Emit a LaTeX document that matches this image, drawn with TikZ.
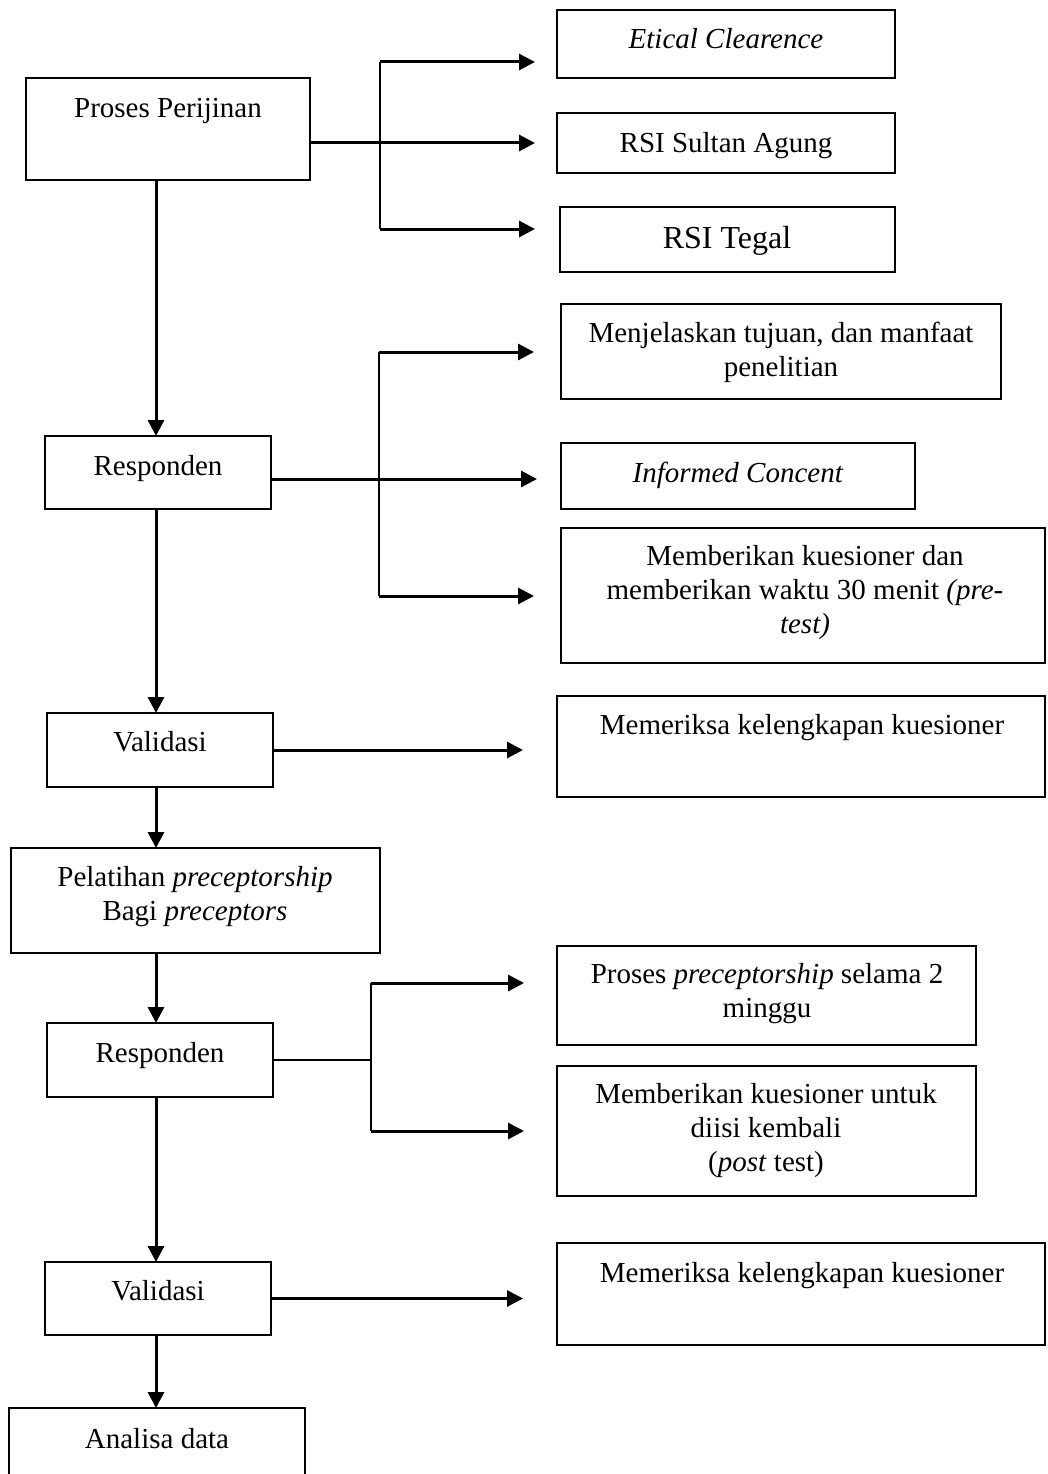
\documentclass[tikz,border=0pt]{standalone}
\usepackage{fontspec}
\setmainfont{Liberation Serif}
\usetikzlibrary{arrows.meta}
\tikzset{
  box/.style={draw=black, line width=2.4pt, inner sep=0pt, outer sep=0pt},
  txt/.style={font=\fontsize{29}{34}\selectfont, align=center, inner sep=0pt, anchor=north},
  arr/.style={line width=3pt, -{Triangle[length=16pt,width=16pt]}},
  ln/.style={line width=2.4pt}
}
\newcommand\bx[5]{\node[box, minimum width={#4-#2}, minimum height={#5-#3}] (#1) at ({(#2+#4)/2},{(#3+#5)/2}) {};}
\newcommand\tx[4]{\node[txt] (#1) at (#2,{#3-23.8}) {\strut #4};}
\begin{document}
\begin{tikzpicture}[x=1pt,y=-1pt]
\useasboundingbox (0,0) rectangle (1047,1474);
\clip (0,0) rectangle (1047,1474);
\fill[white] (0,0) rectangle (1047,1474);
% boxes
\bx{pp}{26}{78}{310}{180}
\bx{ec}{557}{10}{895}{78}
\bx{sa}{557}{113}{895}{173}
\bx{tg}{560}{207}{895}{272}
\bx{mj}{561}{304}{1001}{399}
\bx{ic}{561}{443}{915}{509}
\bx{mk}{561}{528}{1045}{663}
\bx{ra}{45}{436}{271}{509}
\bx{va}{47}{713}{273}{787}
\bx{ma}{557}{696}{1045}{797}
\bx{pl}{11}{848}{380}{953}
\bx{rb}{47}{1023}{273}{1097}
\bx{pb}{557}{946}{976}{1045}
\bx{kb}{557}{1066}{976}{1196}
\bx{vb}{45}{1262}{271}{1335}
\bx{mb}{557}{1243}{1045}{1345}
\bx{an}{9}{1408}{305}{1495}
% texts
\tx{ppt}{168}{117}{Proses Perijinan}
\tx{ect}{726}{48}{\textit{Etical Clearence}}
\tx{sat}{726}{152}{RSI Sultan Agung}
\node[txt, font=\fontsize{32}{36}\selectfont] (tgt) at (727,{248-25.2}) {\strut RSI Tegal};
\tx{mjt}{781}{342}{Menjelaskan tujuan, dan manfaat\\penelitian}
\tx{ict}{738}{482}{\textit{Informed Concent}}
\tx{mkt}{805}{565}{Memberikan kuesioner dan\\memberikan waktu 30 menit \textit{(pre-}\\\textit{test)}}
\tx{rat}{158}{475}{Responden}
\tx{vat}{160}{751}{Validasi}
\tx{mat}{802}{734}{Memeriksa kelengkapan kuesioner}
\tx{plt}{195}{886}{Pelatihan \textit{preceptorship}\\Bagi \textit{preceptors}}
\tx{rbt}{160}{1062}{Responden}
\tx{pbt}{767}{983}{Proses \textit{preceptorship} selama 2\\minggu}
\tx{kbt}{766}{1103}{Memberikan kuesioner untuk\\diisi kembali\\(\textit{post} test)}
\tx{vbt}{158}{1300}{Validasi}
\tx{mbt}{802}{1282}{Memeriksa kelengkapan kuesioner}
\tx{ant}{157}{1448}{Analisa data}
% spine
\coordinate (sp) at (156,0);
\draw[arr] (pp.south -| sp) -- (ra.north -| sp);
\draw[arr] (ra.south -| sp) -- (va.north -| sp);
\draw[arr] (va.south -| sp) -- (pl.north -| sp);
\draw[arr] (pl.south -| sp) -- (rb.north -| sp);
\draw[arr] (rb.south -| sp) -- (vb.north -| sp);
\draw[arr] (vb.south -| sp) -- (an.north -| sp);
% group 1
\coordinate (g1t) at (380,62);
\coordinate (g1b) at (380,229);
\draw[ln] (g1t) -- (g1b);
\draw[arr, shorten >=22pt] (g1t) -- (g1t -| ec.west);
\draw[arr, shorten >=22pt] (pp.east |- sa.west) -- (sa.west);
\draw[arr, shorten >=25pt] (g1b) -- (g1b -| tg.west);
% group 2
\coordinate (g2t) at (379,352);
\coordinate (g2m) at (379,479);
\coordinate (g2b) at (379,596);
\draw[ln] (g2t) -- (g2b);
\draw[arr, shorten >=27pt] (g2t) -- (g2t -| mj.west);
\draw[arr, shorten >=24pt] (g2m -| ra.east) -- (g2m -| ic.west);
\draw[arr, shorten >=27pt] (g2b) -- (g2b -| mk.west);
% group 3
\draw[arr, shorten >=34pt] (va.east) -- (va.east -| ma.west);
% group 4
\coordinate (g4t) at (371,983);
\coordinate (g4b) at (371,1131);
\draw[ln] (g4t) -- (g4b);
\draw[ln] (rb.east) -- (rb.east -| g4t);
\draw[arr, shorten >=33pt] (g4t) -- (g4t -| pb.west);
\draw[arr, shorten >=33pt] (g4b) -- (g4b -| kb.west);
% group 5
\draw[arr, shorten >=34pt] (vb.east) -- (vb.east -| mb.west);
\end{tikzpicture}
\end{document}
